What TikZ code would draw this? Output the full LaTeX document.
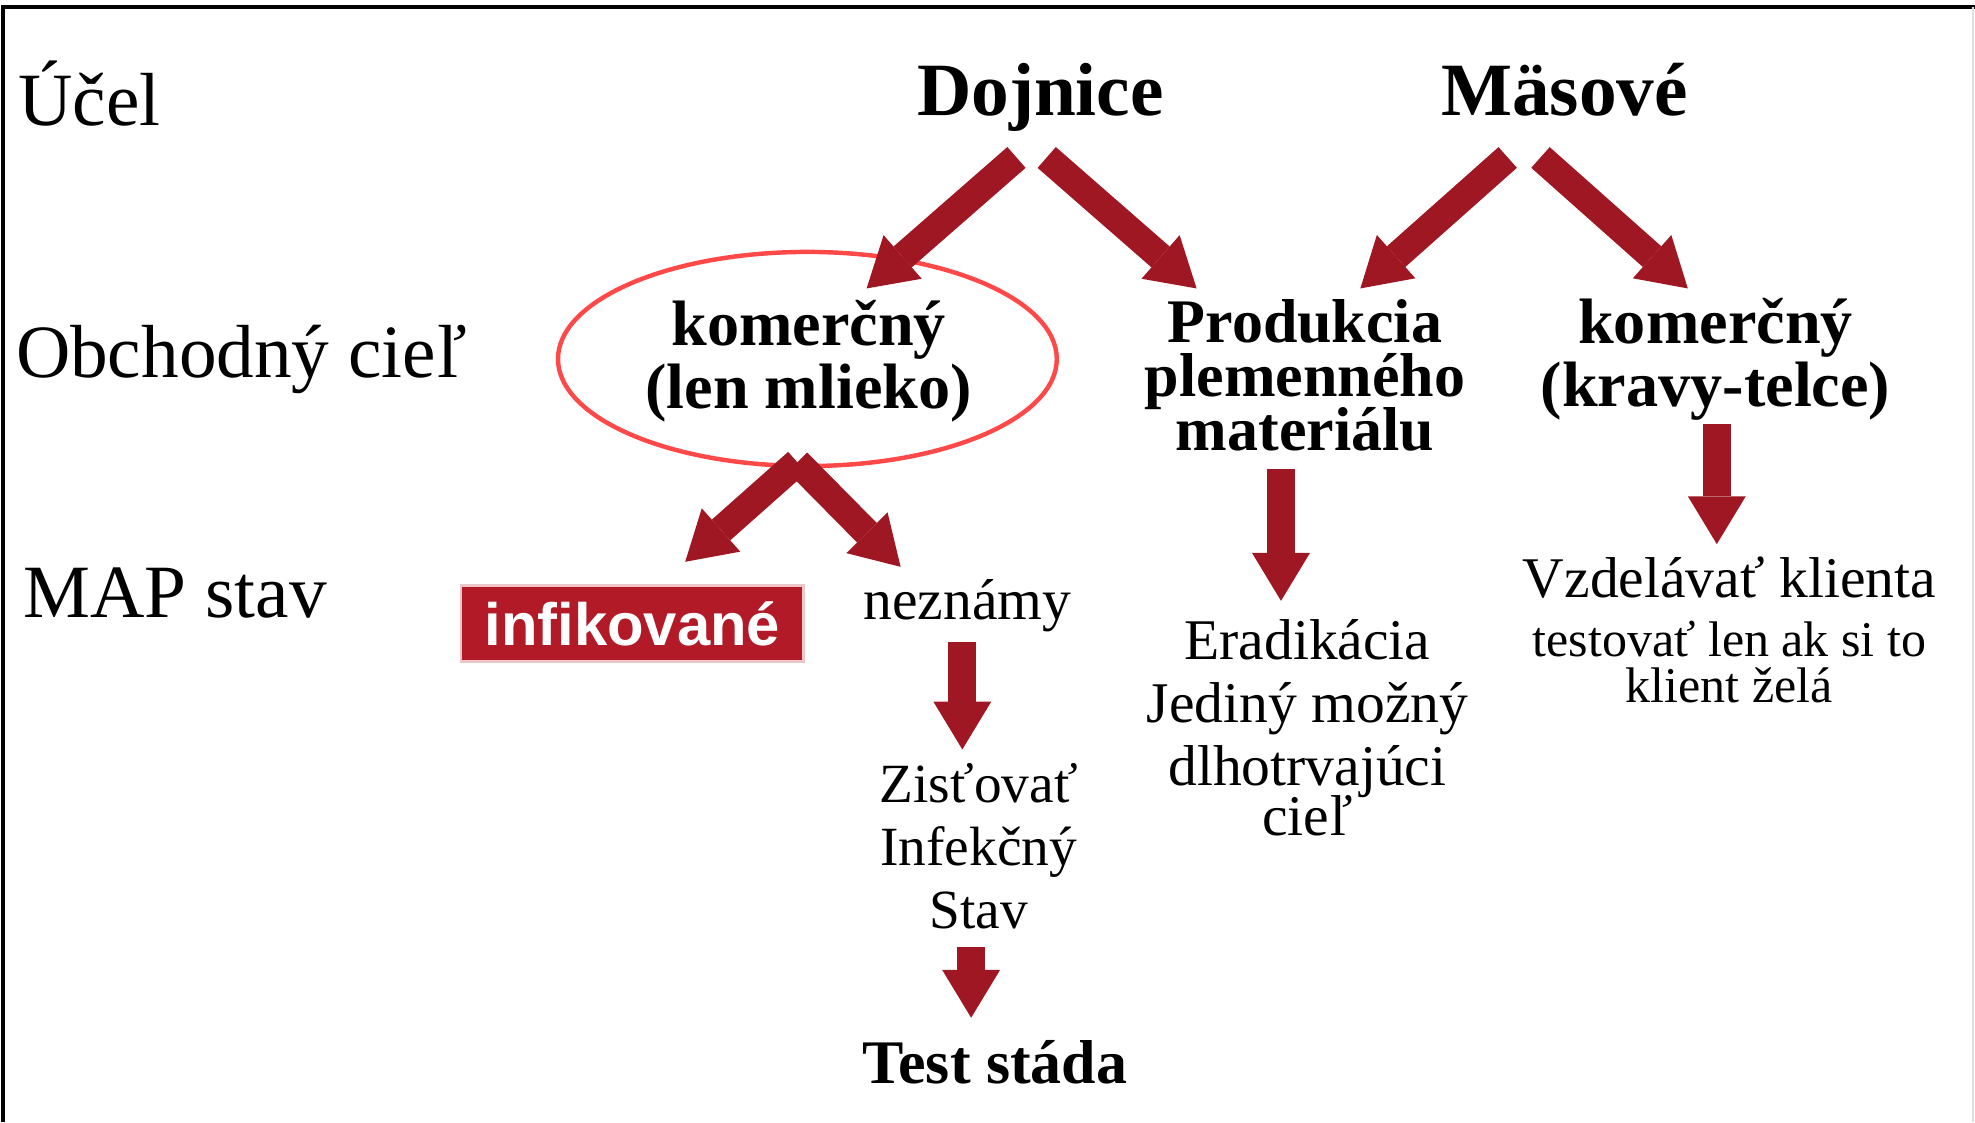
\documentclass[tikz,border=0pt]{standalone}
\usepackage{fontspec}
\setmainfont{Liberation Serif}
\newfontfamily\boxfont{Liberation Sans}
\usepackage{xcolor}
\usepackage{tikz}
\usetikzlibrary{arrows.meta, positioning}
\definecolor{arrowcolor}{RGB}{158, 23, 35}
\definecolor{boxcolor}{RGB}{178, 26, 40}
\definecolor{ringcolor}{RGB}{255, 72, 72}
\setlength{\lineskiplimit}{-20pt}

\begin{document}
\begin{tikzpicture}[
    rowlabel/.style={anchor=base west, inner sep=0pt, font=\fontsize{17}{20}\selectfont},
    purpose/.style={anchor=base, inner sep=0pt, font=\bfseries\fontsize{17}{20}\selectfont},
    goal/.style={align=center, inner sep=0pt, font=\bfseries\fontsize{14.5}{14.2}\selectfont},
    state/.style={align=center, inner sep=0pt, font=\fontsize{13}{14.2}\selectfont},
    infected/.style={fill=boxcolor, draw=boxcolor!25, line width=0.6pt, minimum width=2.72cm, minimum height=0.6cm, text=white, font=\boxfont\bfseries\fontsize{13.5}{16}\selectfont},
    fat/.style={draw=arrowcolor, line width=2.2mm, -{Triangle[width=4.6mm, length=3.8mm, line width=0pt]}},
    ring/.style={draw=ringcolor, line width=1pt}
]
    \useasboundingbox (0,0) rectangle (15.68,8.91);
    \draw[line width=1pt] (0.025,0) -- (0.025,8.855) -- (15.68,8.855);
    \draw[black!12, line width=0.6pt] (15.665,0) -- (15.665,8.855);

    % Row labels
    \node[rowlabel] (ucel) at (0.14, 7.91) {Účel};
    \node[rowlabel] (obchod) at (0.12, 5.91) {Obchodný cieľ};
    \node[rowlabel] (mapstav) at (0.18, 4.01) {MAP stav};

    % Purpose
    \node[purpose] (dojnice) at (8.26, 7.99) {Dojnice};
    \node[purpose] (masove) at (12.42, 7.99) {Mäsové};

    % Business goals
    \node[goal] (komlen) at (6.42, 6.04) {komerčný\\(len mlieko)};
    \node[goal, font=\bfseries\fontsize{14}{12.2}\selectfont] (produkcia) at (10.36, 5.93) {Produkcia\\plemenného\\materiálu};
    \node[goal] (komkravy) at (13.62, 6.06) {komerčný\\(kravy-telce)};
    \draw[ring] (6.41, 6.06) ellipse [x radius=1.98, y radius=0.85];

    % MAP states
    \node[infected] (infik) at (5.02, 3.96) {infikované};
    \node[state, anchor=base] (neznamy) at (7.68, 3.99) {neznámy};
    \node[state, font=\fontsize{12.5}{14.2}\selectfont] (zistovat) at (7.77, 2.19) {Zisťovať\\Infekčný\\Stav};
    \node[goal, anchor=base, font=\bfseries\fontsize{14}{16}\selectfont] (test) at (7.90, 0.31) {Test stáda};
    \node[state] (eradik) at (10.38, 3.13) {Eradikácia\\Jediný možný\\dlhotrvajúci\\[-2.8pt]cieľ};
    \node[state, font=\fontsize{13}{13.4}\selectfont] (vzdel) at (13.73, 3.91) {Vzdelávať klienta\\{\fontsize{11.3}{13.4}\selectfont testovať len ak si to}\\[-3.2pt]{\fontsize{11.3}{13.4}\selectfont klient želá}};

    % Arrow ends
    \coordinate (dojA) at (8.07, 7.66);
    \coordinate (dojB) at (8.31, 7.66);
    \coordinate (masA) at (11.97, 7.66);
    \coordinate (masB) at (12.23, 7.66);
    \coordinate (lenA) at (6.33, 5.24);
    \coordinate (prodA) at (10.17, 5.19);
    \coordinate (kravA) at (13.63, 5.54);
    \coordinate (nezA) at (7.64, 3.81);
    \coordinate (stavA) at (7.71, 1.39);
    \coordinate (lenTip) at (6.88, 6.62);
    \coordinate (prodTipL) at (9.50, 6.62);
    \coordinate (prodTipR) at (10.80, 6.62);
    \coordinate (kravTip) at (13.40, 6.62);
    \coordinate (infikTip) at (5.44, 4.45);
    \coordinate (nezTip) at (7.15, 4.41);
    \coordinate (eradTip) at (10.17, 4.14);
    \coordinate (vzdelTip) at (13.63, 4.59);
    \coordinate (zistTip) at (7.64, 2.96);
    \coordinate (testTip) at (7.71, 0.83);

    % Arrows
    \draw[fat] (dojA) -- (lenTip);
    \draw[fat] (dojB) -- (prodTipL);
    \draw[fat] (masA) -- (prodTipR);
    \draw[fat] (masB) -- (kravTip);
    \draw[fat] (lenA) -- (infikTip);
    \draw[fat] (lenA) -- (nezTip);
    \draw[fat] (prodA) -- (eradTip);
    \draw[fat] (kravA) -- (vzdelTip);
    \draw[fat] (nezA) -- (zistTip);
    \draw[fat] (stavA) -- (testTip);
\end{tikzpicture}
\end{document}
